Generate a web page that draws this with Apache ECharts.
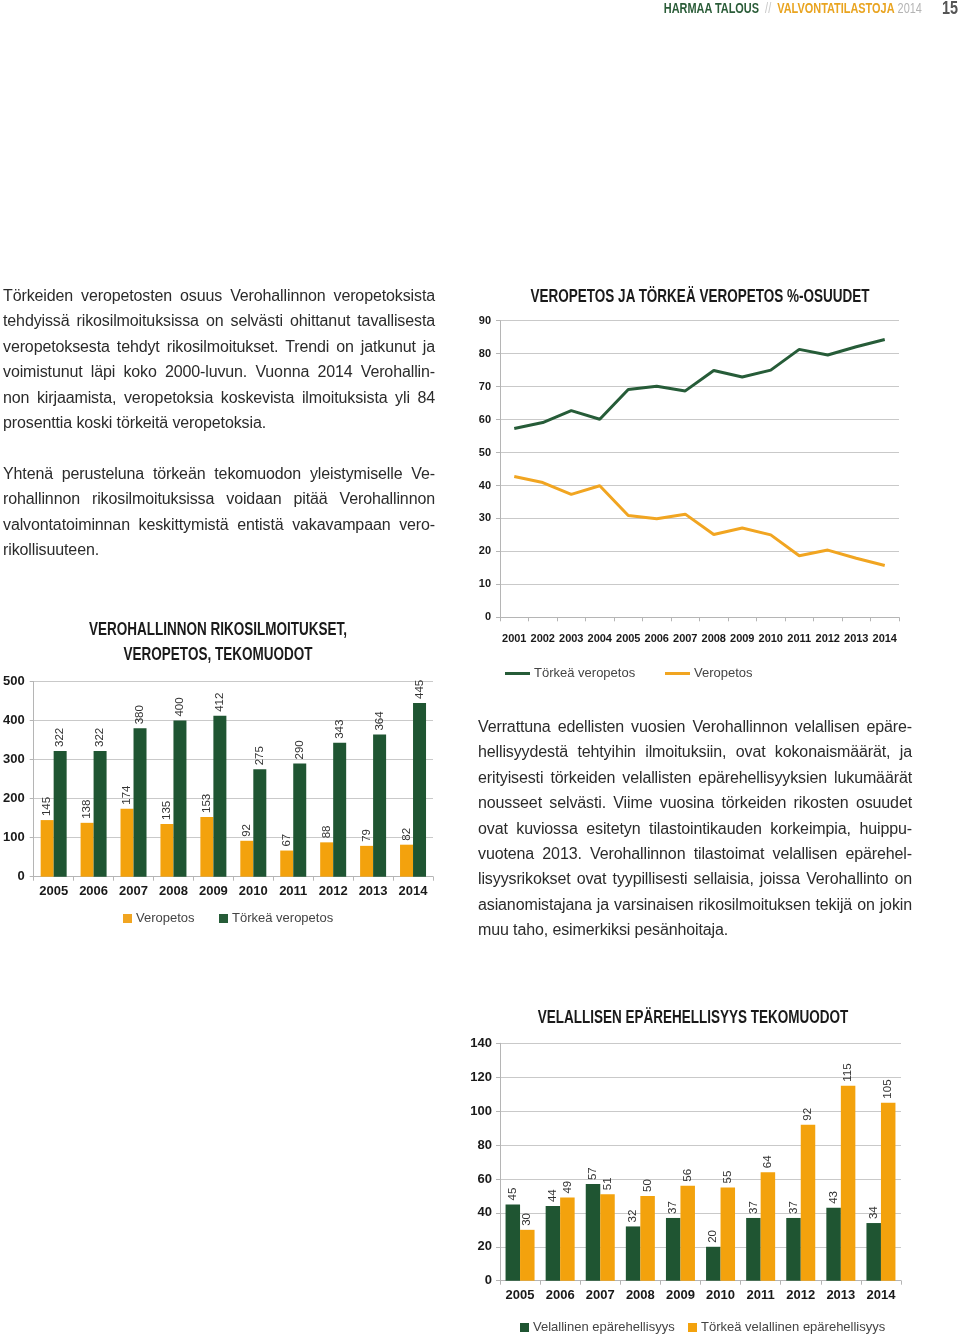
<!DOCTYPE html>
<html>
<head>
<meta charset="utf-8">
<script src="https://cdn.jsdelivr.net/npm/echarts@6/dist/echarts.min.js"></script>
<style>
  html, body { margin:0; padding:0; background:#fff; }
  #page { position:relative; width:960px; height:1337px; overflow:hidden; }
  #chart { position:absolute; left:0; top:0; width:960px; height:1337px; }
  .txt { position:absolute; font-family:'Liberation Sans','Noto Sans',sans-serif; font-size:16px; letter-spacing:-0.12px; line-height:25.4px; color:#2b2b2b; z-index:2; }
  .txt div { text-align:justify; text-align-last:justify; white-space:nowrap; }
  .txt div.last { text-align-last:left; }
  .hdr { position:absolute; top:0; right:38px; white-space:nowrap; font-family:'Liberation Sans',sans-serif; font-weight:bold; font-size:14px; line-height:16px; transform:scaleX(0.78); transform-origin:right center; z-index:2; }
  .pg { position:absolute; left:942px; top:-1px; font-family:'Liberation Sans',sans-serif; font-weight:bold; font-size:18px; line-height:18px; color:#555; transform:scaleX(0.8); transform-origin:left center; z-index:2; }
  .ttl { position:absolute; width:600px; text-align:center; white-space:nowrap; font-family:'Liberation Sans',sans-serif; font-weight:bold; font-size:18px; line-height:20px; color:#1a1a1a; transform:scaleX(0.75); transform-origin:center center; z-index:2; }
</style>
</head>
<body>
<div id="page">
  <div id="chart"></div>
  <div class="hdr"><span style="color:#2a5c38;">HARMAA TALOUS</span><span style="color:#c8c8c8;font-weight:normal;">&nbsp;&nbsp;//&nbsp;&nbsp;</span><span style="color:#e9a420;">VALVONTATILASTOJA</span><span style="color:#b4b4b4;font-weight:normal;">&nbsp;2014</span></div>
  <div class="pg">15</div>

  <div class="ttl" style="left:400px;top:286px;">VEROPETOS JA TÖRKEÄ VEROPETOS %-OSUUDET</div>
  <div class="ttl" style="left:-82px;top:619px;">VEROHALLINNON RIKOSILMOITUKSET,</div>
  <div class="ttl" style="left:-82px;top:644px;">VEROPETOS, TEKOMUODOT</div>
  <div class="ttl" style="left:393px;top:1007px;">VELALLISEN EPÄREHELLISYYS TEKOMUODOT</div>

  <div class="txt" style="left:3px;top:283px;width:432px;">
    <div>Törkeiden veropetosten osuus Verohallinnon veropetoksista</div>
    <div>tehdyissä rikosilmoituksissa on selvästi ohittanut tavallisesta</div>
    <div>veropetoksesta tehdyt rikosilmoitukset. Trendi on jatkunut ja</div>
    <div>voimistunut läpi koko 2000-luvun. Vuonna 2014 Verohallin-</div>
    <div>non kirjaamista, veropetoksia koskevista ilmoituksista yli 84</div>
    <div class="last">prosenttia koski törkeitä veropetoksia.</div>
  </div>
  <div class="txt" style="left:3px;top:461px;width:432px;">
    <div>Yhtenä perusteluna törkeän tekomuodon yleistymiselle Ve-</div>
    <div>rohallinnon rikosilmoituksissa voidaan pitää Verohallinnon</div>
    <div>valvontatoiminnan keskittymistä entistä vakavampaan vero-</div>
    <div class="last">rikollisuuteen.</div>
  </div>
  <div class="txt" style="left:478px;top:714px;width:434px;">
    <div>Verrattuna edellisten vuosien Verohallinnon velallisen epäre-</div>
    <div>hellisyydestä tehtyihin ilmoituksiin, ovat kokonaismäärät, ja</div>
    <div>erityisesti törkeiden velallisten epärehellisyyksien lukumäärät</div>
    <div>nousseet selvästi. Viime vuosina törkeiden rikosten osuudet</div>
    <div>ovat kuviossa esitetyn tilastointikauden korkeimpia, huippu-</div>
    <div>vuotena 2013. Verohallinnon tilastoimat velallisen epärehel-</div>
    <div>lisyysrikokset ovat tyypillisesti sellaisia, joissa Verohallinto on</div>
    <div>asianomistajana ja varsinaisen rikosilmoituksen tekijä on jokin</div>
    <div class="last">muu taho, esimerkiksi pesänhoitaja.</div>
  </div>
</div>
<script>
// ---- Data ----
const lineYears = ['2001','2002','2003','2004','2005','2006','2007','2008','2009','2010','2011','2012','2013','2014'];
const torkeaPct = [57.3, 59.1, 62.7, 60.1, 69.1, 70.1, 68.7, 74.9, 72.9, 75.0, 81.3, 79.6, 82.1, 84.3];
const veropetosPct = [42.7, 40.9, 37.3, 39.9, 30.9, 29.9, 31.3, 25.1, 27.1, 25.0, 18.7, 20.4, 17.9, 15.7];

const barYears = ['2005','2006','2007','2008','2009','2010','2011','2012','2013','2014'];
const veropetosCount = [145, 138, 174, 135, 153, 92, 67, 88, 79, 82];
const torkeaVeropetosCount = [322, 322, 380, 400, 412, 275, 290, 343, 364, 445];

const velallinenCount = [45, 44, 57, 32, 37, 20, 37, 37, 43, 34];
const torkeaVelallinenCount = [30, 49, 51, 50, 56, 55, 64, 92, 115, 105];

const lineYTicks = [0, 90, 10];
const bar1YTicks = [0, 500, 100];
const bar2YTicks = [0, 140, 20];

// ---- Styles ----
const GREEN = '#1f5532';
const ORANGE = '#f3a20d';
const LGREEN = '#265c38';
const LORANGE = '#f1a521';
const SANS = "'Liberation Sans','Noto Sans',sans-serif";
const GRID = '#c9c9c9';
const AXIS = '#b5b5b5';

function xAxisCfg(gridIndex, data, fs, margin) {
  return {
    type:'category', gridIndex, data,
    axisLine:{show:true, lineStyle:{color:AXIS, width:1}},
    axisTick:{show:true, length:4, lineStyle:{color:AXIS}},
    axisLabel:{interval:0, fontFamily:SANS, fontWeight:'bold', fontSize:fs, color:'#1a1a1a', margin},
    splitLine:{show:false}
  };
}
function yAxisCfg(gridIndex, t, fs, margin) {
  return {
    type:'value', gridIndex, min:t[0], max:t[1], interval:t[2],
    axisLine:{show:true, lineStyle:{color:AXIS, width:1}},
    axisTick:{show:true, length:4, lineStyle:{color:AXIS}},
    axisLabel:{fontFamily:SANS, fontWeight:'bold', fontSize:fs, color:'#1a1a1a', margin},
    splitLine:{show:true, lineStyle:{color:GRID, width:1}}
  };
}
const barLabel = {
  show:true, position:'top', rotate:90, align:'left', verticalAlign:'middle', distance:4,
  fontFamily:SANS, fontSize:11.5, color:'#333'
};
function legendItem(name, left, top, icon, w, h) {
  return {
    data:[{name, icon}], left, top, itemWidth:w, itemHeight:h, itemGap:0, itemStyle:{borderWidth:0},
    textStyle:{fontFamily:SANS, fontSize:13, color:'#444', padding:[0,0,0,-1]}, padding:0, selectedMode:false
  };
}

const chart = echarts.init(document.getElementById('chart'), null, {renderer:'canvas'});
chart.setOption({
  animation:false,
  grid:[
    {left:500, top:320.7, width:399, height:296.6},
    {left:31, top:681.5, width:402, height:195.2},
    {left:500, top:1043.3, width:401, height:237.4}
  ],
  xAxis:[ xAxisCfg(0, lineYears, 11, 16), xAxisCfg(1, barYears, 13, 8), xAxisCfg(2, barYears, 13, 8) ],
  yAxis:[ yAxisCfg(0, lineYTicks, 11, 9), yAxisCfg(1, bar1YTicks, 13, 9), yAxisCfg(2, bar2YTicks, 13, 8) ],
  legend:[
    legendItem('Törkeä veropetos', 505, 667, 'rect', 25, 3),
    legendItem('Veropetos', 665, 667, 'rect', 25, 3),
    legendItem('Veropetos', 123, 912, 'rect', 9, 9),
    legendItem('Törkeä veropetos', 219, 912, 'rect', 9, 9),
    legendItem('Velallinen epärehellisyys', 520, 1321, 'rect', 9, 9),
    legendItem('Törkeä velallinen epärehellisyys', 688, 1321, 'rect', 9, 9)
  ],
  series:[
    {name:'Törkeä veropetos', type:'line', xAxisIndex:0, yAxisIndex:0, data:torkeaPct, showSymbol:false, symbol:'none',
     lineStyle:{color:LGREEN, width:3}, itemStyle:{color:LGREEN}},
    {name:'Veropetos', type:'line', xAxisIndex:0, yAxisIndex:0, data:veropetosPct, showSymbol:false, symbol:'none',
     lineStyle:{color:LORANGE, width:3}, itemStyle:{color:LORANGE}},
    {name:'Veropetos', type:'bar', xAxisIndex:1, yAxisIndex:1, data:veropetosCount, barWidth:13, barGap:'0%',
     itemStyle:{color:ORANGE}, label:barLabel},
    {name:'Törkeä veropetos', type:'bar', xAxisIndex:1, yAxisIndex:1, data:torkeaVeropetosCount, barWidth:13, barGap:'0%',
     itemStyle:{color:GREEN}, label:barLabel},
    {name:'Velallinen epärehellisyys', type:'bar', xAxisIndex:2, yAxisIndex:2, data:velallinenCount, barWidth:14.5, barGap:'0%',
     itemStyle:{color:GREEN}, label:barLabel},
    {name:'Törkeä velallinen epärehellisyys', type:'bar', xAxisIndex:2, yAxisIndex:2, data:torkeaVelallinenCount, barWidth:14.5, barGap:'0%',
     itemStyle:{color:ORANGE}, label:barLabel}
  ]
});
</script>
</body>
</html>
